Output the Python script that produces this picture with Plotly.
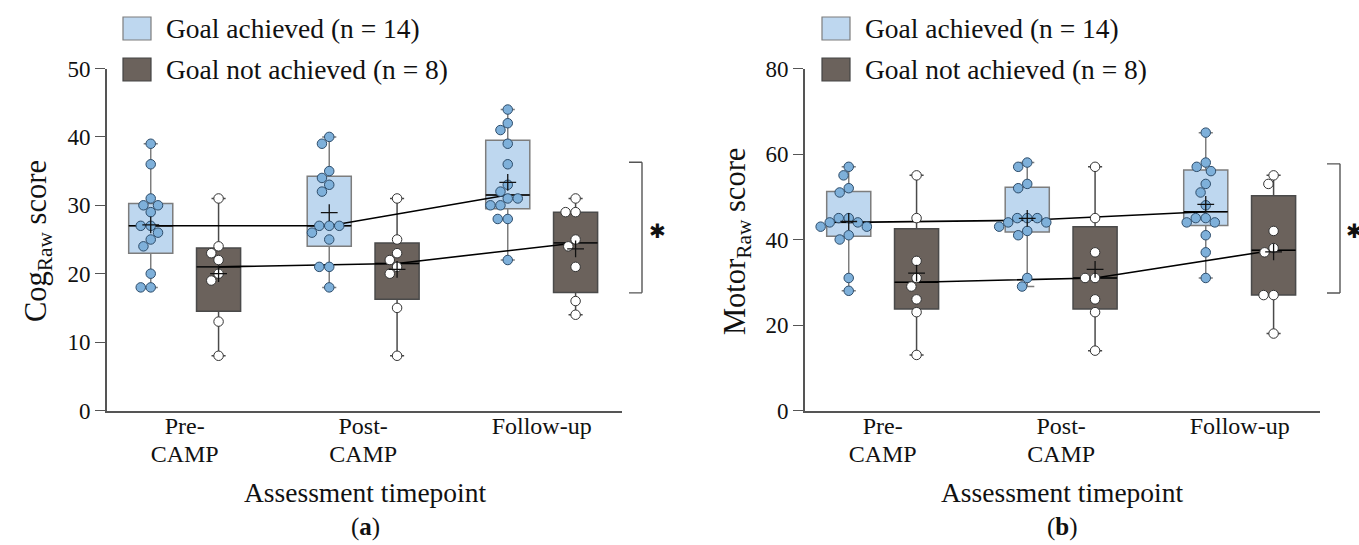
import math
import plotly.graph_objects as go

# ---------------- data ----------------
timepoints = ["Pre-<br>CAMP", "Post-<br>CAMP", "Follow-up"]
legend_labels = ["Goal achieved (n = 14)", "Goal not achieved (n = 8)"]

# (a) Cog_Raw
cog_achieved = [
    [39, 36, 31, 30, 30, 29, 27, 27, 26, 25, 24, 20, 18, 18],
    [40, 39, 35, 34, 33, 32, 27, 27, 27, 26, 25, 21, 21, 18],
    [44, 42, 41, 39, 36, 33, 32, 31, 31, 30, 30, 28, 28, 22],
]
cog_not = [
    [31, 24, 23, 22, 20, 19, 13, 8],
    [31, 25, 23, 22, 21, 20, 15, 8],
    [31, 29, 29, 25, 24, 21, 16, 14],
]
# (b) Motor_Raw
motor_achieved = [
    [57, 55, 52, 51, 45, 45, 44, 44, 43, 43, 41, 40, 31, 28],
    [58, 57, 53, 52, 45, 45, 45, 44, 44, 43, 42, 41, 31, 29],
    [65, 58, 57, 56, 53, 51, 48, 45, 45, 44, 44, 41, 37, 31],
]
motor_not = [
    [55, 45, 35, 31, 29, 26, 23, 13],
    [57, 45, 37, 31, 31, 26, 23, 14],
    [55, 53, 42, 38, 37, 27, 27, 18],
]

# ---------------- style ----------------
W, H = 1359, 545
FONT = "Liberation Serif"
BLUE_BOX = "#bed7ef"
BLUE_EDGE = "#7d7d7d"
BLUE_PT = "#7eb0da"
BLUE_PT_EDGE = "#2e4d6b"
BROWN_BOX = "#6b625c"
BROWN_EDGE = "#4a4a4a"
OFF = 0.19
BOXW = 0.247
XPX = 178.5  # px per category unit
PT_D = 9.5
SWARM_D = 10.0


def px(x):
    return x / W


def py(y):
    return 1 - y / H


def quart(vals, p):
    s = sorted(vals)
    n = len(s)
    pos = p * (n + 1)
    lo = int(math.floor(pos))
    frac = pos - lo
    lo = max(1, min(lo, n))
    hi = min(lo + 1, n)
    return s[lo - 1] + frac * (s[hi - 1] - s[lo - 1])


def median(vals):
    return quart(vals, 0.5)


def swarm(vals, ppu, D=SWARM_D):
    n = len(vals)
    offs = [0.0] * n
    placed = []
    order = sorted(range(n), key=lambda i: -vals[i])
    for i in order:
        y = vals[i] * ppu
        iv = []
        for (yj, xj) in placed:
            dy = abs(y - yj)
            if dy < D:
                w = math.sqrt(D * D - dy * dy)
                iv.append((xj - w, xj + w))
        cands = [0.0] + [a for a, b in iv] + [b for a, b in iv]
        cands.sort(key=lambda c: (round(abs(c), 6), c))
        for c in cands:
            if all(not (a + 1e-6 < c < b - 1e-6) for a, b in iv):
                offs[i] = c
                break
        placed.append((y, offs[i]))
    return [o / XPX for o in offs]


fig = go.Figure()


def add_panel(ach, nach, xa, ya, ppu):
    groups = [
        (ach, -OFF, BLUE_BOX, BLUE_EDGE, BLUE_PT, BLUE_PT_EDGE),
        (nach, +OFF, BROWN_BOX, BROWN_EDGE, "white", "#333333"),
    ]
    for data, off, fill, edge, pf, pe in groups:
        xs = [i + off for i in range(len(data))]
        fig.add_trace(go.Box(
            x=xs,
            q1=[quart(d, 0.25) for d in data],
            median=[median(d) for d in data],
            q3=[quart(d, 0.75) for d in data],
            lowerfence=[min(d) for d in data],
            upperfence=[max(d) for d in data],
            width=BOXW, whiskerwidth=0.32,
            fillcolor=fill, line=dict(color=edge, width=1.5),
            boxpoints=False, showlegend=False, hoverinfo="skip",
            xaxis=xa, yaxis=ya,
        ))
    for data, off, fill, edge, pf, pe in groups:
        xs = [i + off for i in range(len(data))]
        meds = [median(d) for d in data]
        mx, my = [], []
        for x, m in zip(xs, meds):
            mx += [x - BOXW / 2, x + BOXW / 2, None]
            my += [m, m, None]
        fig.add_trace(go.Scatter(x=mx, y=my, mode="lines",
                                 line=dict(color="black", width=1.4),
                                 showlegend=False, hoverinfo="skip", xaxis=xa, yaxis=ya))
        fig.add_trace(go.Scatter(x=xs, y=meds, mode="lines",
                                 line=dict(color="black", width=1.6),
                                 showlegend=False, hoverinfo="skip", xaxis=xa, yaxis=ya))
    for data, off, fill, edge, pf, pe in groups:
        for i, d in enumerate(data):
            o = swarm(d, ppu)
            fig.add_trace(go.Scatter(
                x=[i + off + oo for oo in o], y=d, mode="markers",
                marker=dict(size=PT_D, color=pf, line=dict(color=pe, width=1)),
                showlegend=False, hoverinfo="skip", xaxis=xa, yaxis=ya))
        xs = [i + off for i in range(len(data))]
        fig.add_trace(go.Scatter(
            x=xs, y=[sum(d) / len(d) for d in data], mode="markers",
            marker=dict(symbol="cross-thin", size=12, line=dict(color="#111111", width=1.3)),
            showlegend=False, hoverinfo="skip", xaxis=xa, yaxis=ya))


add_panel(cog_achieved, cog_not, "x", "y", 6.84)
add_panel(motor_achieved, motor_not, "x2", "y2", 4.275)

# tick text: larger glyphs on a tighter line pitch
tick_text = ["<br>".join('<span style="font-size:24px">%s</span>' % part for part in t.split("<br>"))
             for t in timepoints]
xtickfont = dict(family=FONT, size=21.5, color="#111111")
ytickfont = dict(family=FONT, size=23, color="#111111")
xcommon = dict(range=[-0.435, 2.45], tickvals=[0, 1, 2], ticktext=tick_text,
               showline=True, linecolor="#555555", linewidth=1.6, ticks="",
               showgrid=False, zeroline=False, tickfont=xtickfont, fixedrange=True,
               automargin=False, ticklabelstandoff=-4)
ydom = [py(410.5), py(68.5)]
ycommon = dict(showline=True, linecolor="#555555", linewidth=1.6, ticks="outside",
               ticklen=10, tickwidth=1.4, tickcolor="#555555", showgrid=False,
               zeroline=False, tickfont=ytickfont, domain=ydom, automargin=False,
               fixedrange=True)

fig.update_layout(
    width=W, height=H, margin=dict(l=0, r=0, t=0, b=0, pad=0, autoexpand=False),
    plot_bgcolor="white", paper_bgcolor="white",
    font=dict(family=FONT, color="#111111"),
    xaxis=dict(domain=[px(107), px(622)], anchor="y", **xcommon),
    yaxis=dict(range=[0, 50], dtick=10, anchor="x", **ycommon),
    xaxis2=dict(domain=[px(805), px(1320)], anchor="y2", **xcommon),
    yaxis2=dict(range=[0, 80], dtick=20, anchor="x2", **ycommon),
)

shapes = []
ann = []
for lx, cx, ytx, ytitle, label in [
    (123, 365, 38, "Cog<sub>Raw</sub> score", "(<b>a</b>)"),
    (822, 1062, 737, "Motor<sub>Raw</sub> score", "(<b>b</b>)"),
]:
    for k, (lab, fc, ec) in enumerate(zip(legend_labels, [BLUE_BOX, BROWN_BOX], ["#7d7d7d", "#444444"])):
        yt = 17 + k * 41
        shapes.append(dict(type="rect", xref="paper", yref="paper",
                           x0=px(lx), x1=px(lx + 28), y0=py(yt + 23), y1=py(yt),
                           fillcolor=fc, line=dict(color=ec, width=1.2)))
        ann.append(dict(text=lab, xref="paper", yref="paper", x=px(lx + 41), y=py(yt + 11.5),
                        xanchor="left", yanchor="middle", showarrow=False,
                        font=dict(family=FONT, size=27.5, color="#111111")))
    ann.append(dict(text="Assessment timepoint", xref="paper", yref="paper",
                    x=px(cx), y=py(492), xanchor="center", yanchor="middle", showarrow=False,
                    font=dict(family=FONT, size=27.5, color="#111111")))
    ann.append(dict(text=label, xref="paper", yref="paper",
                    x=px(cx), y=py(527), xanchor="center", yanchor="middle", showarrow=False,
                    font=dict(family=FONT, size=25, color="#111111")))
    ann.append(dict(text=ytitle, xref="paper", yref="paper",
                    x=px(ytx), y=py(241), textangle=-90,
                    xanchor="center", yanchor="middle", showarrow=False,
                    font=dict(family=FONT, size=30.5, color="#111111")))

# significance brackets
for xb, ya, y0, y1, ystar, xs in [
    (642, "y", 17.2, 36.3, 26.2, 657),
    (1340, "y2", 27.5, 57.7, 42.0, 1354),
]:
    shapes.append(dict(type="line", xref="paper", yref=ya, x0=px(xb), x1=px(xb), y0=y0, y1=y1,
                       line=dict(color="#555555", width=1.4)))
    for yy in (y0, y1):
        shapes.append(dict(type="line", xref="paper", yref=ya, x0=px(xb - 13), x1=px(xb), y0=yy, y1=yy,
                           line=dict(color="#555555", width=1.4)))
    ann.append(dict(text="✱", xref="paper", yref=ya, x=px(xs), y=ystar,
                    xanchor="center", yanchor="middle", showarrow=False,
                    font=dict(family="DejaVu Sans", size=20, color="#111111")))

fig.update_layout(shapes=shapes, annotations=ann)
fig.write_html("out.html", config={"displayModeBar": False},
               post_script="document.body.style.margin='0px';document.body.style.overflow='hidden';")
